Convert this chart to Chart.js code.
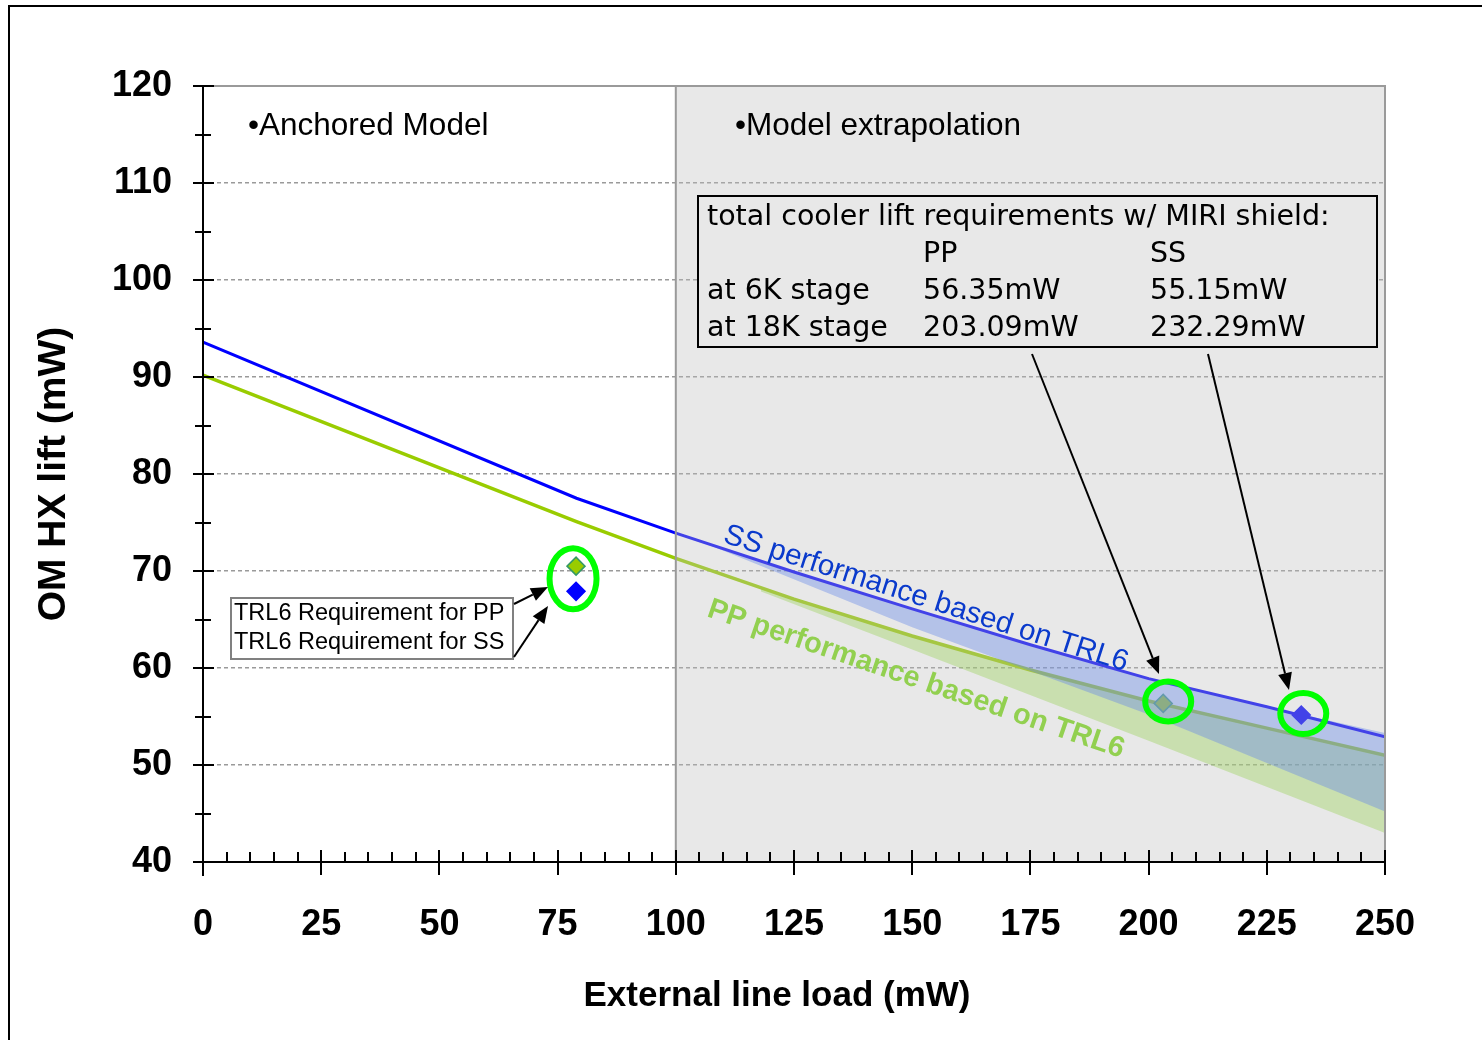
<!DOCTYPE html>
<html><head><meta charset="utf-8">
<script src="https://cdn.jsdelivr.net/npm/chart.js@4.4.1/dist/chart.umd.min.js"></script>
<style>html,body{margin:0;padding:0;background:#fff;} #wrap{width:1482px;height:1040px;position:relative;}</style>
</head><body><div id="wrap"><canvas id="c" width="1482" height="1040"></canvas></div>
<script>
// ---------------- data ----------------
const ssLoad = [0, 79, 100, 125, 150, 175, 200, 225, 250];
const ssLift = [93.6, 77.5, 73.9, 69.9, 66.1, 62.4, 58.9, 56.0, 52.9];
const ppLoad = [0, 79, 100, 125, 150, 175, 200, 225, 250];
const ppLift = [90.2, 75.1, 71.3, 67.1, 63.3, 59.8, 56.6, 53.8, 51.0];
const ssBandLoad = [105, 125, 150, 175, 200, 225, 250];
const ssBandUpper = [73.1, 69.9, 66.1, 62.4, 58.9, 56.0, 53.3];
const ssBandLowerLoad = [105, 150, 200, 250];
const ssBandLower = [73.1, 64.2, 55.2, 45.2];
const ppBandLoad = [118, 125, 150, 175, 200, 225, 250];
const ppBandUpper = [68.3, 67.1, 63.3, 59.8, 56.6, 53.8, 51.0];
const ppBandLowerLoad = [118, 150, 200, 250];
const ppBandLower = [67.9, 61.9, 52.5, 43.0];
const reqLoad = [78.9];
const ppReqLift = [70.5];
const ssReqLift = [67.9];
const stageNames = ['at 6K stage', 'at 18K stage'];
const ppStage = [56.35, 203.09];   // 6K-stage lift (mW), 18K-stage load (mW)
const ssStage = [55.15, 232.29];
const extrapolation = [100, 250];
const xRange = [0, 250], xStep = 25, xMinor = 5;
const yRange = [40, 120], yStep = 10, yMinor = 5;
const regionLabels = ['\u2022Anchored Model', '\u2022Model extrapolation'];
const reqLabels = ['TRL6 Requirement for PP', 'TRL6 Requirement for SS'];
const curveLabels = ['SS performance based on TRL6', 'PP performance based on TRL6'];
const boxTitle = 'total cooler lift requirements w/ MIRI shield:';

// ---------------- helpers ----------------
const pts = (xs, ys) => xs.map((x, i) => ({x, y: ys[i]}));
const F = "'Liberation Sans', Arial, sans-serif";
const BLUE = '#0000ff', GREEN = '#99cc00';

function arrow(ctx, x1, y1, x2, y2) {
  const a = Math.atan2(y2 - y1, x2 - x1), L = 17, W = 7;
  const bx = x2 - L * Math.cos(a), by = y2 - L * Math.sin(a);
  ctx.beginPath(); ctx.moveTo(x1, y1); ctx.lineTo(bx, by); ctx.stroke();
  ctx.beginPath(); ctx.moveTo(x2, y2);
  ctx.lineTo(bx + W * Math.sin(a), by - W * Math.cos(a));
  ctx.lineTo(bx - W * Math.sin(a), by + W * Math.cos(a));
  ctx.closePath(); ctx.fill();
}

const decor = {
  id: 'decor',
  afterDatasetsDraw(chart) {
    const {ctx, scales: {x, y}} = chart;
    const x0 = x.getPixelForValue(extrapolation[0]), x1 = x.getPixelForValue(extrapolation[1]);
    const yT = y.getPixelForValue(yRange[1]), yB = y.getPixelForValue(yRange[0]);
    ctx.save();
    ctx.fillStyle = 'rgba(190,190,190,0.35)';
    ctx.fillRect(x0, yT, x1 - x0, yB - yT);
    ctx.strokeStyle = '#9a9a9a'; ctx.lineWidth = 2;
    ctx.strokeRect(x0, yT, x1 - x0, yB - yT);
    ctx.beginPath(); ctx.moveTo(x.left, yT); ctx.lineTo(x1, yT); ctx.stroke();
    ctx.restore();
  },
  afterDraw(chart) {
    const {ctx, scales: {x, y}} = chart;
    const L = x.left, B = y.bottom, T = y.top, R = x.right;
    ctx.save();
    // axis lines
    ctx.strokeStyle = '#000'; ctx.lineWidth = 2;
    ctx.beginPath(); ctx.moveTo(L, T); ctx.lineTo(L, B + 14); ctx.stroke();
    ctx.beginPath(); ctx.moveTo(L - 10, B); ctx.lineTo(R, B); ctx.stroke();
    // tick marks
    for (let v = xRange[0]; v <= xRange[1]; v += xMinor) {
      const px = Math.round(x.getPixelForValue(v));
      ctx.beginPath();
      if (v % xStep === 0) { ctx.moveTo(px, B - 12); ctx.lineTo(px, B + 13); }
      else { ctx.moveTo(px, B - 10); ctx.lineTo(px, B); }
      ctx.stroke();
    }
    for (let v = yRange[0]; v <= yRange[1]; v += yMinor) {
      const py = Math.round(y.getPixelForValue(v));
      ctx.beginPath();
      if (v % yStep === 0) { ctx.moveTo(L - 10, py); ctx.lineTo(L + 11, py); }
      else { ctx.moveTo(L - 8, py); ctx.lineTo(L + 8, py); }
      ctx.stroke();
    }
    // x axis title
    ctx.fillStyle = '#000';
    ctx.font = 'bold 35px ' + F;
    ctx.textAlign = 'center'; ctx.textBaseline = 'middle';
    ctx.fillText('External line load (mW)', 777, 996);

    // region labels
    ctx.font = '31.5px ' + F; ctx.textAlign = 'left';
    ctx.fillText(regionLabels[0], 248, 126);
    ctx.fillText(regionLabels[1], 735, 126);

    // requirement box
    ctx.fillStyle = '#fff'; ctx.fillRect(231, 598, 282, 61);
    ctx.strokeStyle = '#808080'; ctx.lineWidth = 2; ctx.strokeRect(231, 598, 282, 61);
    ctx.fillStyle = '#000'; ctx.font = '23.5px ' + F;
    ctx.fillText(reqLabels[0], 234, 614);
    ctx.fillText(reqLabels[1], 234, 643);

    // summary table box
    ctx.fillStyle = 'rgb(232,232,232)'; ctx.fillRect(698, 196, 679, 151);
    ctx.strokeStyle = '#000'; ctx.lineWidth = 2; ctx.strokeRect(698, 196, 679, 151);
    ctx.fillStyle = '#000'; ctx.font = "28.5px 'DejaVu Sans', Verdana, sans-serif";
    const cols = [707, 923, 1150], rows = [218, 255, 292, 329];
    ctx.fillText(boxTitle, cols[0], rows[0]);
    ctx.fillText('PP', cols[1], rows[1]); ctx.fillText('SS', cols[2], rows[1]);
    ctx.fillText(stageNames[0], cols[0], rows[2]);
    ctx.fillText(ppStage[0].toFixed(2) + 'mW', cols[1], rows[2]);
    ctx.fillText(ssStage[0].toFixed(2) + 'mW', cols[2], rows[2]);
    ctx.fillText(stageNames[1], cols[0], rows[3]);
    ctx.fillText(ppStage[1].toFixed(2) + 'mW', cols[1], rows[3]);
    ctx.fillText(ssStage[1].toFixed(2) + 'mW', cols[2], rows[3]);

    // rotated curve labels
    ctx.textBaseline = 'alphabetic';
    ctx.save(); ctx.translate(722, 542); ctx.rotate(17.8 * Math.PI / 180);
    ctx.fillStyle = '#0a3acc'; ctx.font = '29.5px ' + F; ctx.fillText(curveLabels[0], 0, 0);
    ctx.restore();
    ctx.save(); ctx.translate(706, 616); ctx.rotate(18.9 * Math.PI / 180);
    ctx.fillStyle = '#92d050'; ctx.font = 'bold 29px ' + F; ctx.fillText(curveLabels[1], 0, 0);
    ctx.restore();

    // green ellipses
    ctx.strokeStyle = '#00ff00'; ctx.lineWidth = 6;
    const rx = x.getPixelForValue(reqLoad[0]);
    const ry = (y.getPixelForValue(ppReqLift[0]) + y.getPixelForValue(ssReqLift[0])) / 2;
    ctx.beginPath(); ctx.ellipse(rx - 3, ry, 23.5, 30.5, 0, 0, Math.PI * 2); ctx.stroke();
    const p1x = x.getPixelForValue(ppStage[1]), p1y = y.getPixelForValue(ppStage[0]);
    ctx.beginPath(); ctx.ellipse(p1x + 5, p1y - 2, 23, 20, 0, 0, Math.PI * 2); ctx.stroke();
    const p2x = x.getPixelForValue(ssStage[1]), p2y = y.getPixelForValue(ssStage[0]);
    ctx.beginPath(); ctx.ellipse(p2x + 2, p2y - 1.5, 23, 20.5, 0, 0, Math.PI * 2); ctx.stroke();

    // arrows
    ctx.strokeStyle = '#000'; ctx.fillStyle = '#000'; ctx.lineWidth = 2;
    arrow(ctx, 514, 604, 548, 587);
    arrow(ctx, 514, 657, 548, 606);
    arrow(ctx, 1032, 354, 1159, 674);
    arrow(ctx, 1208, 354, 1289, 690);

    // outer frame
    ctx.lineWidth = 2; ctx.strokeStyle = '#000';
    ctx.strokeRect(9, 6, 1500, 1100);
    ctx.restore();
  }
};

const lineDs = (label, data, color, width) => ({label, data, borderColor: color, borderWidth: width,
  pointRadius: 0, fill: false, tension: 0});
const ptDs = (label, data, bg, border) => ({label, data, showLine: false, pointStyle: 'rectRot',
  pointRadius: 9, pointBackgroundColor: bg, pointBorderColor: border, pointBorderWidth: 1.5, borderWidth: 0});

new Chart(document.getElementById('c'), {
  type: 'line',
  data: {
    datasets: [
      ptDs('SS 6K', [{x: ssStage[1], y: ssStage[0]}], BLUE, BLUE),
      lineDs('SS', pts(ssLoad, ssLift), BLUE, 3),
      {label: 'SS band', data: pts(ssBandLoad, ssBandUpper), borderWidth: 0, pointRadius: 0,
        fill: '+1', backgroundColor: 'rgba(55,108,255,0.4)', tension: 0},
      {label: 'SS band low', data: pts(ssBandLowerLoad, ssBandLower), borderWidth: 0, pointRadius: 0, fill: false, tension: 0},
      ptDs('PP 6K', [{x: ppStage[1], y: ppStage[0]}], GREEN, '#339966'),
      ptDs('PP req', pts(reqLoad, ppReqLift), GREEN, '#339966'),
      ptDs('SS req', pts(reqLoad, ssReqLift), BLUE, BLUE),
      lineDs('PP', pts(ppLoad, ppLift), GREEN, 3.5),
      {label: 'PP band', data: pts(ppBandLoad, ppBandUpper), borderWidth: 0, pointRadius: 0,
        fill: '+1', backgroundColor: 'rgba(135,220,37,0.4)', tension: 0},
      {label: 'PP band low', data: pts(ppBandLowerLoad, ppBandLower), borderWidth: 0, pointRadius: 0, fill: false, tension: 0}
    ]
  },
  options: {
    responsive: false, animation: false, devicePixelRatio: 1, events: [],
    layout: {padding: {left: 0, top: 86, right: 97, bottom: 0}},
    plugins: {legend: {display: false}, tooltip: {enabled: false}, filler: {drawTime: 'beforeDatasetDraw'}},
    scales: {
      x: {type: 'linear', min: xRange[0], max: xRange[1],
        ticks: {stepSize: xStep, color: '#000', font: {family: F, size: 36, weight: 'bold'}, padding: 41, maxRotation: 0},
        grid: {display: false, drawTicks: false}, border: {display: false},
        afterFit(s) { s.height = 178; }},
      y: {min: yRange[0], max: yRange[1],
        ticks: {stepSize: yStep, color: '#000', font: {family: F, size: 36, weight: 'bold'}, padding: 31},
        grid: {drawTicks: false, lineWidth: 1.5,
          color: c => (c.tick && (c.tick.value === yRange[0] || c.tick.value === yRange[1])) ? 'rgba(0,0,0,0)' : '#9a9a9a'},
        border: {display: false, dash: [4, 3]},
        title: {display: true, text: 'OM HX lift (mW)', color: '#000', font: {family: F, size: 39, weight: 'bold'}, padding: {top: 31, bottom: 0}},
        afterFit(s) { s.width = 203; }}
    }
  },
  plugins: [decor]
});
</script></body></html>
